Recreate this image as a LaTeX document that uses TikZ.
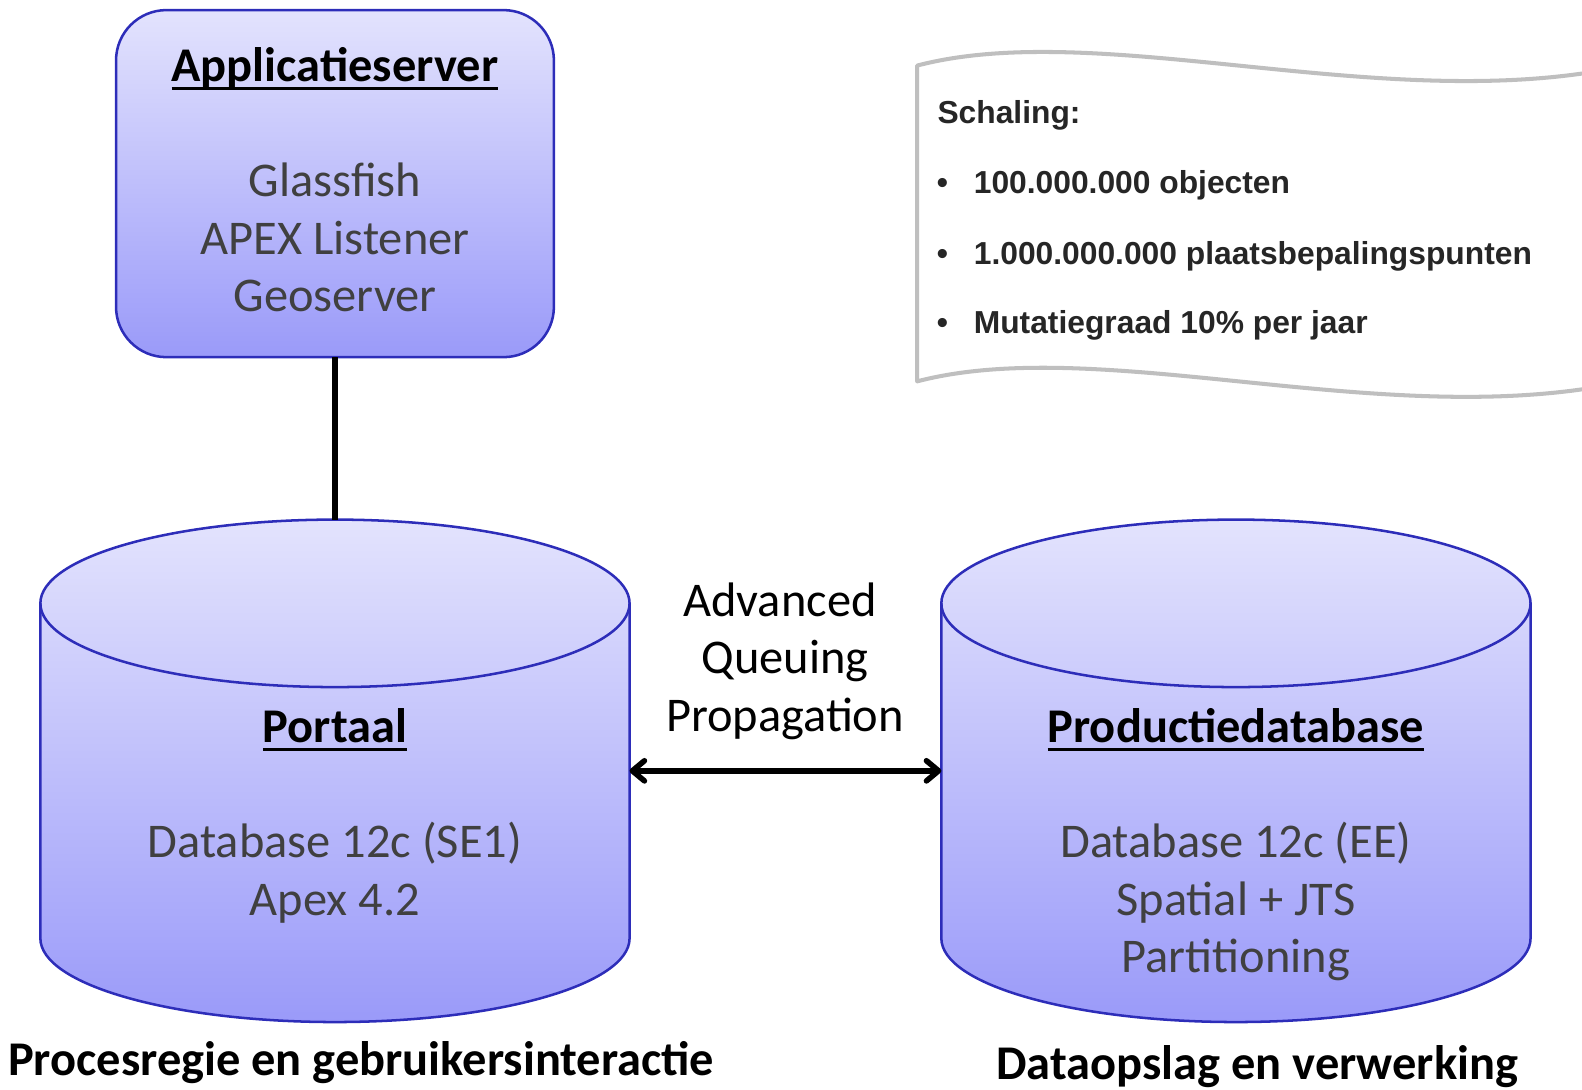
\documentclass[tikz,border=0pt]{standalone}
\usepackage{fontspec}
\setmainfont{Carlito}
\newfontfamily\arialf{Liberation Sans}
\usetikzlibrary{arrows.meta}
\definecolor{fillTop}{RGB}{227,227,253}
\definecolor{fillBot}{RGB}{154,154,249}
\definecolor{edgeBlue}{RGB}{45,45,185}
\definecolor{txtGray}{RGB}{64,64,64}
\definecolor{scrollGray}{RGB}{191,191,191}
\definecolor{scrollTxt}{RGB}{38,38,38}
\newcommand\ulbox[1]{\setbox0\hbox{#1}\rlap{\rule[-8pt]{\wd0}{3pt}}\box0}
\begin{document}
\begin{tikzpicture}[x=1pt,y=-1pt,
  shapefill/.style={draw=edgeBlue, line width=2.5pt, top color=fillTop, bottom color=fillBot},
  holder/.style={inner sep=0pt, outer sep=0pt},
  title/.style={font=\fontsize{48}{57}\selectfont\bfseries, anchor=base, inner sep=0pt, text=black},
  body/.style={font=\fontsize{48}{57}\selectfont, anchor=base, inner sep=0pt, text=txtGray},
  plain/.style={font=\fontsize{48}{57}\selectfont, anchor=base, inner sep=0pt, text=black},
  caption/.style={font=\fontsize{48}{57}\selectfont\bfseries, anchor=base, inner sep=0pt, text=black},
  stext/.style={font=\arialf\fontsize{31.5}{38}\selectfont\bfseries, anchor=base west, inner sep=0pt, text=scrollTxt},
  link/.style={line width=6pt, black},
  barb/.tip={Straight Barb[length=12pt, width=20pt, line cap=round, line join=round]}
]
\useasboundingbox (0,0) rectangle (1568,1080.3);

% application server box
\node[shapefill, rounded corners=50pt, minimum width=434pt, minimum height=344pt, holder] (app) at (332,182) {};
\node[title] (apptitle) at (332,81) {\ulbox{Applicatieserver}};
\node[body] (app1) at (332,195) {Glassfish};
\node[body] (app2) at (332,252) {APEX Listener};
\node[body] (app3) at (332,309) {Geoserver};

% cylinders
\node[holder, minimum width=584pt, minimum height=498pt] (portaal) at (332,764) {};
\node[holder, minimum width=584pt, minimum height=498pt] (prod) at (1225,764) {};

\path[shapefill] (40,598) -- (40,930)
  arc[start angle=180, end angle=360, x radius=292pt, y radius=83pt]
  -- (624,598)
  arc[start angle=0, end angle=180, x radius=292pt, y radius=83pt] -- cycle;
\draw[edgeBlue, line width=2.5pt] (40,598) arc[start angle=180, end angle=360, x radius=292pt, y radius=83pt];

\path[shapefill] (933,598) -- (933,930)
  arc[start angle=180, end angle=360, x radius=292pt, y radius=83pt]
  -- (1517,598)
  arc[start angle=0, end angle=180, x radius=292pt, y radius=83pt] -- cycle;
\draw[edgeBlue, line width=2.5pt] (933,598) arc[start angle=180, end angle=360, x radius=292pt, y radius=83pt];

\node[title] (ptitle) at (332,736) {\ulbox{Portaal}};
\node[body] (p1) at (332,850) {Database 12c (SE1)};
\node[body] (p2) at (332,907) {Apex 4.2};

\node[title] (dtitle) at (1225,736) {\ulbox{Productiedatabase}};
\node[body] (d1) at (1225,850) {Database 12c (EE)};
\node[body] (d2) at (1225,907) {Spatial + JTS};
\node[body] (d3) at (1225,964) {Partitioning};

% connectors
\draw[link] (app.south) -- (portaal.north);
\draw[link, line width=5.5pt, {barb}-{barb}] (portaal.east) -- (prod.west);

\node[plain] (aq1) at (773,611) {Advanced};
\node[plain] (aq2) at (778,668) {Queuing};
\node[plain] (aq3) at (778,725) {Propagation};

% captions
\node[caption] (cap1) at (358,1066) {Procesregie en gebruikersinteractie};
\node[caption] (cap2) at (1246,1070) {Dataopslag en verwerking};

% scroll
\begin{scope}
\clip (0,0) rectangle (1568,1080.3);
\draw[scrollGray, line width=4pt, fill=white, line join=round]
  (909,65) .. controls (1100,15) and (1400,125) .. (1640,58)
  -- (1640,371) .. controls (1400,438) and (1100,328) .. (909,378) -- cycle;
\end{scope}
\node[stext] (sch) at (929,122) {Schaling:};
\node[stext, anchor=base] (b1) at (934,192) {•};
\node[stext] (s1) at (965,192) {100.000.000 objecten};
\node[stext, anchor=base] (b2) at (934,262) {•};
\node[stext] (s2) at (965,262) {1.000.000.000 plaatsbepalingspunten};
\node[stext, anchor=base] (b3) at (934,331) {•};
\node[stext] (s3) at (965,331) {Mutatiegraad 10\% per jaar};
\end{tikzpicture}
\end{document}
